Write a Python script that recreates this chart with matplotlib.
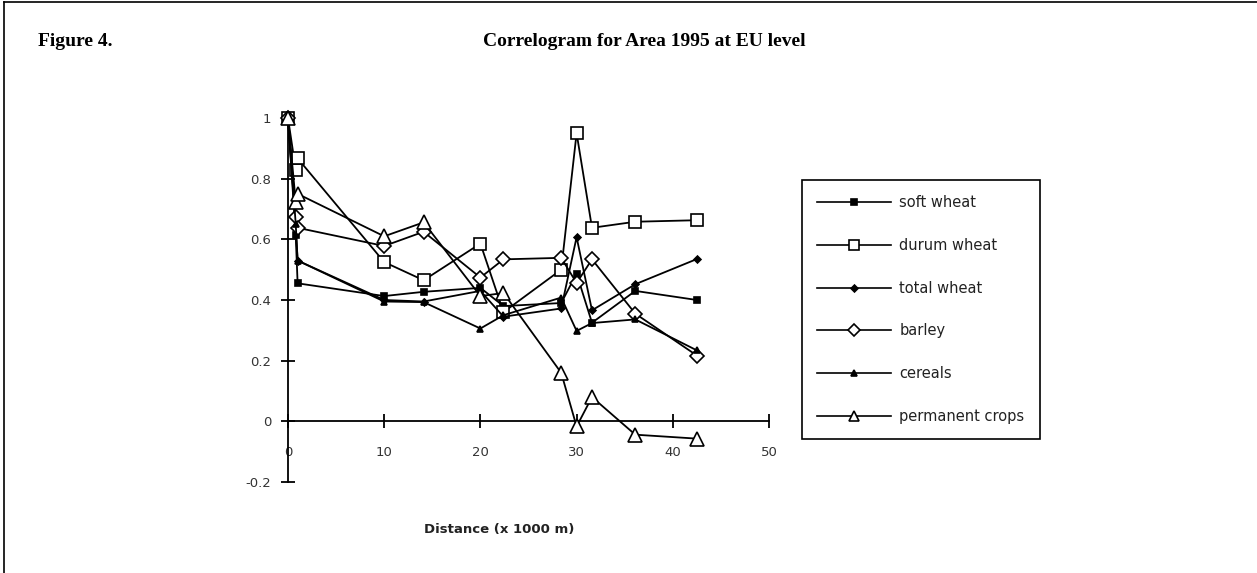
import numpy as np
import matplotlib.pyplot as plt
from matplotlib.lines import Line2D

# lag distances (x 1000 m)
lags = [0, 0.8, 1.0, 10.0, 14.1, 20.0, 22.4, 28.4, 30.0, 31.6, 36.1, 42.5]

soft_wheat = [1.0, 0.615, 0.455, 0.413, 0.427, 0.44, 0.38, 0.39, 0.487, 0.325, 0.43, 0.40]
durum_wheat = [1.0, 0.83, 0.867, 0.525, 0.465, 0.586, 0.36, 0.50, 0.95, 0.638, 0.658, 0.663]
total_wheat = [1.0, 0.64, 0.53, 0.40, 0.395, 0.43, 0.345, 0.372, 0.607, 0.366, 0.452, 0.535]
barley = [1.0, 0.675, 0.638, 0.578, 0.625, 0.474, 0.534, 0.539, 0.456, 0.534, 0.355, 0.217]
cereals = [1.0, 0.652, 0.53, 0.395, 0.393, 0.306, 0.35, 0.408, 0.298, 0.324, 0.336, 0.234]
permanent_crops = [1.0, 0.724, 0.75, 0.61, 0.656, 0.413, 0.423, 0.16, -0.017, 0.08, -0.044, -0.057]

series = [
    ("soft wheat", soft_wheat, "s", 4.5, "black"),
    ("durum wheat", durum_wheat, "s", 9, "white"),
    ("total wheat", total_wheat, "D", 3.5, "black"),
    ("barley", barley, "D", 7, "white"),
    ("cereals", cereals, "^", 5, "black"),
    ("permanent crops", permanent_crops, "^", 10, "white"),
]

plt.rcParams['font.family'] = ['DejaVu Sans']

fig = plt.figure(figsize=(12.57, 5.73), dpi=100)
ax = fig.add_axes([288 / 1257, 91 / 573, 481 / 1257, 364 / 573])

for name, vals, mk, ms, fc in series:
    ax.plot(lags, vals, color="black", lw=1.3, marker=mk, ms=ms,
            mfc=fc, mec="black", mew=1.2, clip_on=False, zorder=3)

ax.set_xlim(0, 50)
ax.set_ylim(-0.2, 1.0)
ax.set_xticks([0, 10, 20, 30, 40, 50])
ax.set_yticks([-0.2, 0, 0.2, 0.4, 0.6, 0.8, 1.0])
ax.set_yticklabels(["-0.2", "0", "0.2", "0.4", "0.6", "0.8", "1"])
ax.spines["top"].set_visible(False)
ax.spines["right"].set_visible(False)
ax.spines["bottom"].set_position(("data", 0))
ax.spines["left"].set_linewidth(1.3)
ax.spines["bottom"].set_linewidth(1.3)
ax.tick_params(axis="both", direction="inout", length=10, width=1.3,
               labelsize=9.5, labelcolor="#333333")
ax.tick_params(axis="x", pad=13)
ax.tick_params(axis="y", pad=7)
ax.patch.set_alpha(0)

fig.text(499 / 1257, 1 - 529 / 573, "Distance (x 1000 m)", ha="center",
         va="center", fontsize=9.5, fontweight="bold", color="#222222")

fig.text(38 / 1257, 1 - 41 / 573, "Figure 4.", ha="left", va="center",
         fontsize=14, fontweight="bold", family="Liberation Serif")
fig.text(644 / 1257, 1 - 41 / 573, "Correlogram for Area 1995 at EU level",
         ha="center", va="center", fontsize=14, fontweight="bold",
         family="Liberation Serif")

# page frame (top and left edges)
fig.add_artist(Line2D([4 / 1257, 1.0], [1 - 1.5 / 573, 1 - 1.5 / 573],
                      transform=fig.transFigure, color="black", lw=1.2))
fig.add_artist(Line2D([4 / 1257, 4 / 1257], [0, 1 - 1.5 / 573],
                      transform=fig.transFigure, color="black", lw=1.2))

handles = []
leg_ms = {"soft wheat": 4, "durum wheat": 7, "total wheat": 3.5,
          "barley": 6, "cereals": 4, "permanent crops": 7}
for name, vals, mk, ms, fc in series:
    handles.append(Line2D([], [], color="black", lw=1.2, marker=mk,
                          ms=leg_ms[name], mfc=fc, mec="black", mew=1.2,
                          label=name))
leg = fig.legend(handles=handles, loc="upper left",
                 bbox_to_anchor=(801.7 / 1257, 1 - 180 / 573),
                 borderaxespad=0, fontsize=10.5, handlelength=5.1,
                 handletextpad=0.55, labelspacing=1.9, borderpad=1.05,
                 frameon=True, fancybox=False, edgecolor="black",
                 framealpha=1)
leg.get_frame().set_linewidth(1.2)
for t in leg.get_texts():
    t.set_color("#222222")

fig.savefig("out.png", dpi=100)
